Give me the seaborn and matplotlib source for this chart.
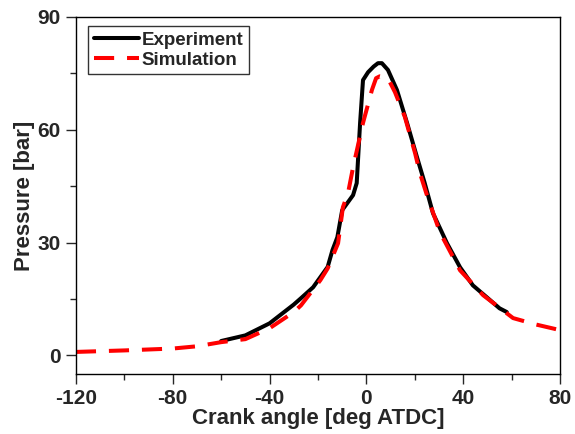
import pandas as pd
import numpy as np
import matplotlib
matplotlib.use("Agg")
import matplotlib.pyplot as plt
import seaborn as sns
from matplotlib.ticker import MultipleLocator

# measured cylinder pressure
exp_angle = [-60, -50, -40, -30, -27, -22, -16, -14, -12, -10, -5.5, -4, -2.6, -1.4, 0.7, 3, 4.8, 6.4,
             8.9, 12.6, 16.8, 20.9, 24, 27.5, 33.3, 38.7, 44, 49.8, 55, 58]
exp_pressure = [3.8, 5.3, 8.5, 13.5, 15.2, 18.1, 23.5, 28, 31.4, 38.6, 42.6, 45.8, 61.8, 73.2, 75.3, 76.8, 77.7, 77.7,
                75.9, 70.6, 61.8, 52.7, 46, 37.8, 29.8, 23.4, 18.6, 15.4, 12.5, 11.5]

# simulated cylinder pressure
sim_angle = [-120, -100, -80, -70, -60, -50, -40, -30, -27, -19, -16, -11.7, -9.7, -7.6, -5.5, -1.4, 2.3, 4, 5.5,
             8.9, 11.8, 15.9, 20.1, 22.1, 25, 30.4, 38.7, 48.2, 60.6, 70, 80]
sim_pressure = [0.9, 1.3, 1.8, 2.4, 3.5, 4.3, 7.2, 11.5, 13.3, 20, 23.1, 29.8, 39.4, 43.1, 50, 61.8, 70.6, 73.7, 74.2,
                73.7, 70, 63.4, 53.8, 48.5, 42.6, 32.7, 22.6, 16, 9.9, 8.2, 6.7]

df_exp = pd.DataFrame({"angle": exp_angle, "pressure": exp_pressure})
df_sim = pd.DataFrame({"angle": sim_angle, "pressure": sim_pressure})

sns.set_style("ticks")
plt.rcParams["font.family"] = ["Liberation Sans", "DejaVu Sans"]
plt.rcParams["font.weight"] = "bold"
plt.rcParams["axes.unicode_minus"] = False

fig = plt.figure(figsize=(5.75, 4.34), dpi=100)
ax = fig.add_axes([0.132, 0.138, 0.842, 0.823])

sns.lineplot(data=df_exp, x="angle", y="pressure", ax=ax, color="black", lw=2.9,
             label="Experiment", sort=False)
sns.lineplot(data=df_sim, x="angle", y="pressure", ax=ax, color="red", lw=2.9,
             label="Simulation", sort=False, dashes=False)
ax.lines[1].set_dashes((5, 3.2))

ax.set_xlim(-120, 80)
ax.set_ylim(-5, 90)
ax.xaxis.set_major_locator(MultipleLocator(40))
ax.xaxis.set_minor_locator(MultipleLocator(20))
ax.yaxis.set_major_locator(MultipleLocator(30))
ax.yaxis.set_minor_locator(MultipleLocator(15))
ax.tick_params(which="major", direction="out", length=7, width=1, labelsize=15, pad=4)
ax.tick_params(which="minor", direction="out", length=4, width=1)
for s in ax.spines.values():
    s.set_linewidth(1)
    s.set_color("black")

ax.set_xlabel("Crank angle [deg ATDC]", fontsize=16, fontweight="bold", labelpad=0)
ax.set_ylabel("Pressure [bar]", fontsize=16, fontweight="bold", labelpad=2)

leg = ax.legend(loc="upper left", bbox_to_anchor=(0.025, 0.975), frameon=True, fancybox=False,
                prop={"weight": "bold", "size": 13.5}, handlelength=2.4, handletextpad=0.15,
                borderpad=0.3, labelspacing=0.15, borderaxespad=0)
leg.get_frame().set_edgecolor("black")
leg.get_frame().set_linewidth(1)

fig.savefig("out.png", dpi=100)
